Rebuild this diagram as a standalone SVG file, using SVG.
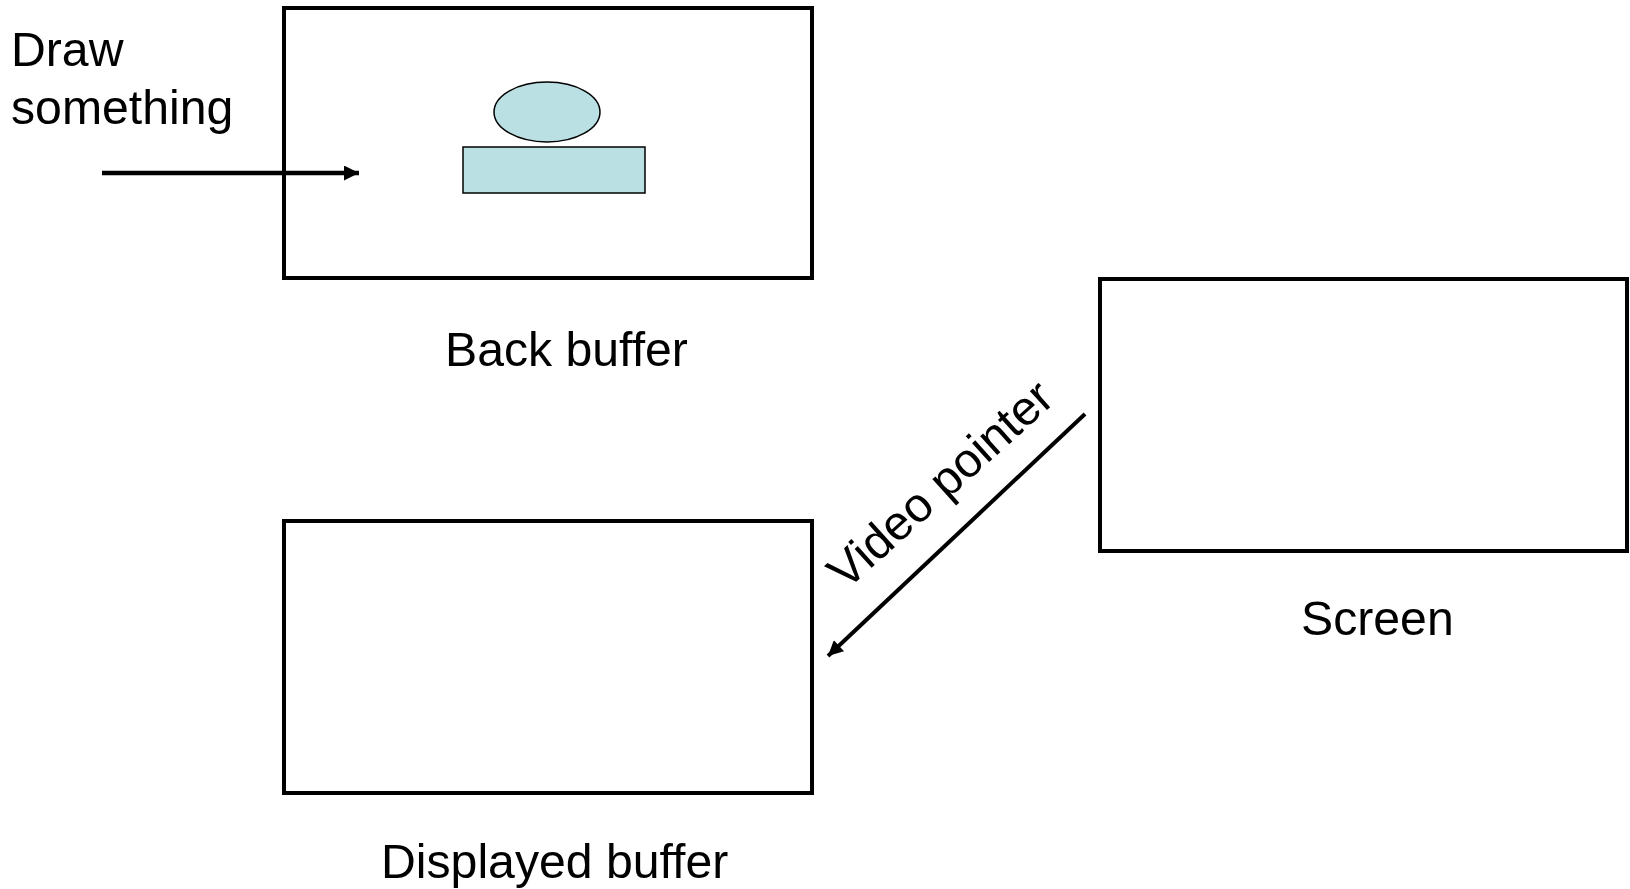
<svg xmlns="http://www.w3.org/2000/svg" width="1630" height="889" viewBox="0 0 1630 889">
  <style>
    .frame { fill: #ffffff; stroke: #000000; stroke-width: 4; }
    .shape { fill: #bbe0e3; stroke: #000000; stroke-width: 1.5; }
    .label { font-family: "Liberation Sans", Arial, sans-serif; font-size: 48.2px; fill: #000000; }
    .conn { stroke: #000000; fill: none; }
  </style>
  <defs>
    <marker id="arrowhead" viewBox="0 0 10 10" refX="10" refY="5" markerUnits="userSpaceOnUse" markerWidth="17" markerHeight="15" orient="auto">
      <path d="M0,0 L10,5 L0,10 z" fill="#000000"/>
    </marker>
  </defs>
  <rect width="1630" height="889" fill="#ffffff"/>

  <!-- back buffer with the drawn shapes -->
  <g id="back-buffer">
    <rect class="frame" x="284" y="8" width="528" height="270"/>
    <ellipse class="shape" cx="547" cy="112" rx="53" ry="30"/>
    <rect class="shape" x="463" y="147" width="182" height="46"/>
    <text class="label" x="445" y="366">Back buffer</text>
  </g>

  <!-- buffer currently on display -->
  <g id="displayed-buffer">
    <rect class="frame" x="284" y="521" width="528" height="272"/>
    <text class="label" x="381" y="878">Displayed buffer</text>
  </g>

  <!-- screen -->
  <g id="screen">
    <rect class="frame" x="1100" y="279" width="527" height="272"/>
    <text class="label" x="1301" y="635">Screen</text>
  </g>

  <!-- caption for the drawing arrow -->
  <g id="draw-something">
    <text class="label" x="11" y="66">Draw</text>
    <text class="label" x="11" y="124">something</text>
  </g>

  <g id="connectors">
    <line class="conn" x1="102" y1="173" x2="359" y2="173" stroke-width="4.5" marker-end="url(#arrowhead)"/>
    <line class="conn" x1="1085" y1="414" x2="828" y2="656" stroke-width="4" marker-end="url(#arrowhead)"/>
    <text class="label" transform="translate(846 591) rotate(-42)">Video pointer</text>
  </g>
</svg>
